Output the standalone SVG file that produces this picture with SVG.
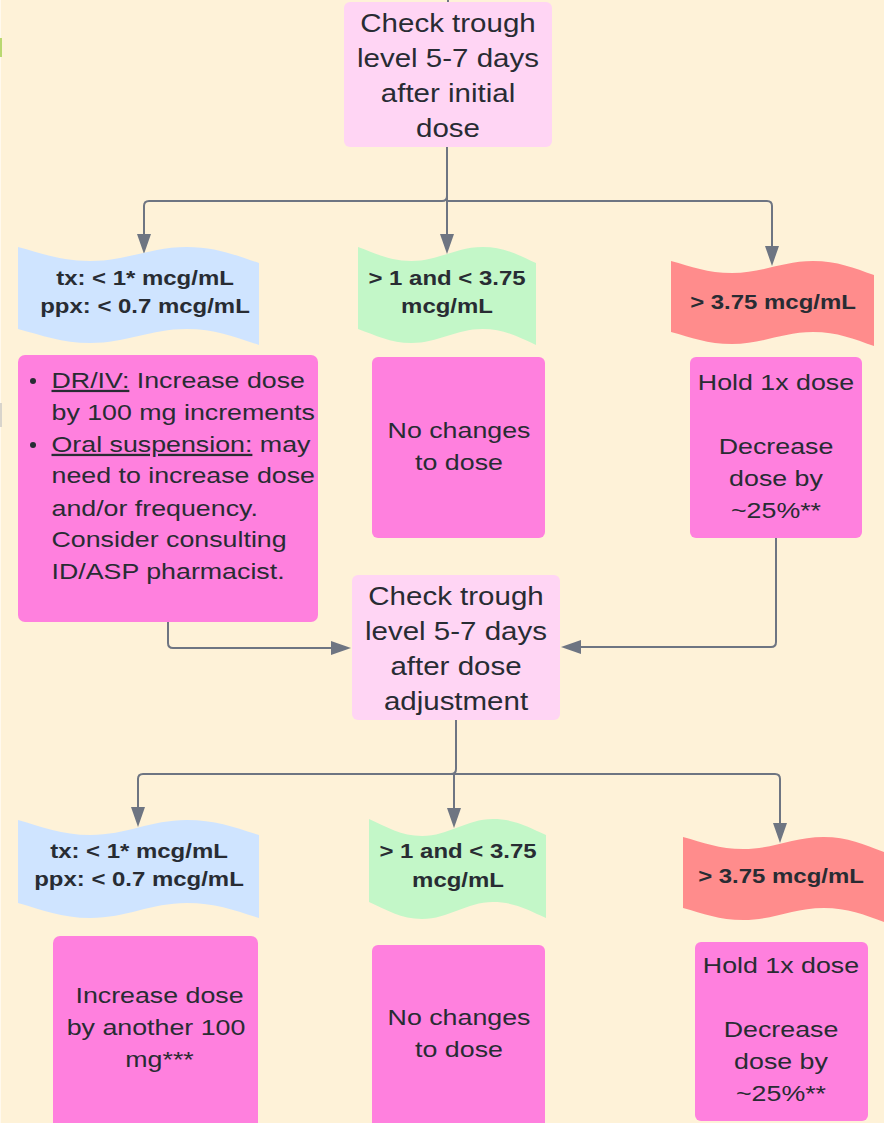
<svg xmlns="http://www.w3.org/2000/svg" width="884" height="1123" viewBox="0 0 884 1123">
<style>
.bg{fill:#FEF2D8}
.chk{fill:#FFD5F4}
.pk{fill:#FF80DE}
.blue{fill:#CFE4FF}
.green{fill:#C3F7C8}
.red{fill:#FF8C8C}
.t{font-family:"Liberation Sans",Arial,sans-serif;fill:#282C33;text-anchor:middle}
.big{font-size:25px}
.mid{font-size:22.7px}
.bold{font-size:20.3px;font-weight:bold}
.left{text-anchor:start}
.con{fill:none;stroke:#6E7582;stroke-width:2}
</style>
<defs>
<marker id="arr" markerUnits="userSpaceOnUse" markerWidth="20" markerHeight="14" refX="8" refY="7" orient="auto">
<path d="M0,0 L20,7 L0,14 Z" fill="#6E7582"/>
</marker>
</defs>
<rect class="bg" x="0" y="0" width="884" height="1123"/>
<rect x="0" y="0" width="1" height="1123" fill="#FFF9EE"/>
<rect x="0" y="38" width="2" height="19" fill="#B9D870"/>
<rect x="0" y="403" width="2" height="24" fill="#D8D4CC"/>

<g id="connectors">
<path class="con" d="M448,0 V3"/>
<path class="con" d="M447,147 V196 Q447,201 442,201 H149 Q144,201 144,206 V242" marker-end="url(#arr)"/>
<path class="con" d="M447,147 V242" marker-end="url(#arr)"/>
<path class="con" d="M447,201 H767 Q772,201 772,206 V254" marker-end="url(#arr)"/>
<path class="con" d="M168,621 V643 Q168,648 173,648 H339" marker-end="url(#arr)"/>
<path class="con" d="M776,538 V642 Q776,647 771,647 H573" marker-end="url(#arr)"/>
<path class="con" d="M456,720 V769 Q456,774 451,774 H143 Q138,774 138,779 V815" marker-end="url(#arr)"/>
<path class="con" d="M454,774 V816" marker-end="url(#arr)"/>
<path class="con" d="M451,774 H775 Q780,774 780,779 V831" marker-end="url(#arr)"/>
</g>

<g id="check1">
<rect class="chk" x="344" y="2" width="208" height="145" rx="6"/>
<text class="t big" transform="translate(448,32) scale(1.18,1)"><tspan x="0" y="0">Check trough</tspan><tspan x="0" y="35">level 5-7 days</tspan><tspan x="0" y="70">after initial</tspan><tspan x="0" y="105">dose</tspan></text>
</g>

<g id="low1">
<path class="blue" d="M18,247 C42.1,253.3 61.4,261 90.3,261 C126.5,261 150.6,247 186.7,247 C215.6,247 234.9,255 259,263 V345 C234.9,337 215.6,329 186.7,329 C150.6,329 126.5,343 90.3,343 C61.4,343 42.1,335.3 18,329 Z"/>
<text class="t bold" transform="translate(145,285) scale(1.18,1)"><tspan x="0" y="0">tx: &lt; 1* mcg/mL</tspan><tspan x="0" y="28">ppx: &lt; 0.7 mcg/mL</tspan></text>
</g>

<g id="ok1">
<path class="green" d="M358,247 C375.8,253.3 390,261 411.4,261 C438.1,261 455.9,247 482.6,247 C504,247 518.2,255 536,263 V345 C518.2,337 504,329 482.6,329 C455.9,329 438.1,343 411.4,343 C390,343 375.8,335.3 358,329 Z"/>
<text class="t bold" transform="translate(447,285) scale(1.18,1)"><tspan x="0" y="0">&gt; 1 and &lt; 3.75</tspan><tspan x="0" y="28">mcg/mL</tspan></text>
</g>

<g id="high1">
<path class="red" d="M671,261 C691.3,266.4 707.5,273 731.9,273 C762.4,273 782.7,261 813.1,261 C837.5,261 853.7,268 874,275 V346 C853.7,339 837.5,332 813.1,332 C782.7,332 762.4,344 731.9,344 C707.5,344 691.3,337.4 671,332 Z"/>
<text class="t bold" transform="translate(773,309) scale(1.18,1)">&gt; 3.75 mcg/mL</text>
</g>

<g id="increase1">
<rect class="pk" x="18" y="355" width="300" height="267" rx="7"/>
<circle cx="33" cy="381" r="3" fill="#282C33"/>
<circle cx="33" cy="445" r="3" fill="#282C33"/>
<text class="t mid left" transform="translate(51.5,388) scale(1.18,1)"><tspan x="0" y="0"><tspan text-decoration="underline">DR/IV:</tspan> Increase dose</tspan><tspan x="0" y="32">by 100 mg increments</tspan><tspan x="0" y="64"><tspan text-decoration="underline">Oral suspension:</tspan> may</tspan><tspan x="0" y="95">need to increase dose</tspan><tspan x="0" y="128">and/or frequency.</tspan><tspan x="0" y="159">Consider consulting</tspan><tspan x="0" y="191">ID/ASP pharmacist.</tspan></text>
</g>

<g id="nochange1">
<rect class="pk" x="372" y="357" width="173" height="181" rx="6"/>
<text class="t mid" transform="translate(459,438) scale(1.18,1)"><tspan x="0" y="0">No changes</tspan><tspan x="0" y="32">to dose</tspan></text>
</g>

<g id="hold1">
<rect class="pk" x="690" y="357" width="172" height="181" rx="6"/>
<text class="t mid" transform="translate(776,390) scale(1.18,1)"><tspan x="0" y="0">Hold 1x dose</tspan><tspan x="0" y="64">Decrease</tspan><tspan x="0" y="96">dose by</tspan><tspan x="0" y="128">~25%**</tspan></text>
</g>

<g id="check2">
<rect class="chk" x="352" y="575" width="208" height="145" rx="6"/>
<text class="t big" transform="translate(456,605) scale(1.18,1)"><tspan x="0" y="0">Check trough</tspan><tspan x="0" y="35">level 5-7 days</tspan><tspan x="0" y="70">after dose</tspan><tspan x="0" y="105">adjustment</tspan></text>
</g>

<g id="low2">
<path class="blue" d="M18,820 C42.1,826.8 61.4,835 90.3,835 C126.5,835 150.6,820 186.7,820 C215.6,820 234.9,827.5 259,835 V918 C234.9,910.5 215.6,903 186.7,903 C150.6,903 126.5,918 90.3,918 C61.4,918 42.1,909.8 18,903 Z"/>
<text class="t bold" transform="translate(139,858) scale(1.18,1)"><tspan x="0" y="0">tx: &lt; 1* mcg/mL</tspan><tspan x="0" y="28">ppx: &lt; 0.7 mcg/mL</tspan></text>
</g>

<g id="ok2">
<path class="green" d="M369,819 C386.7,826.7 400.9,836 422.1,836 C448.7,836 466.4,819 492.9,819 C514.2,819 528.3,827 546,835 V918 C528.3,910 514.2,902 492.9,902 C466.4,902 448.7,919 422.1,919 C400.9,919 386.7,909.7 369,902 Z"/>
<text class="t bold" transform="translate(458,858) scale(1.18,1)"><tspan x="0" y="0">&gt; 1 and &lt; 3.75</tspan><tspan x="0" y="29">mcg/mL</tspan></text>
</g>

<g id="high2">
<path class="red" d="M683,837 C703.1,842.4 719.2,849 743.3,849 C773.5,849 793.6,837 823.7,837 C847.8,837 863.9,844.5 884,852 V922 C863.9,914.5 847.8,908 823.7,908 C793.6,908 773.5,920 743.3,920 C719.2,920 703.1,913.4 683,908 Z"/>
<text class="t bold" transform="translate(781,883) scale(1.18,1)">&gt; 3.75 mcg/mL</text>
</g>

<g id="increase2">
<rect class="pk" x="53" y="936" width="205" height="200" rx="7"/>
<text class="t mid" transform="translate(156,1003) scale(1.18,1)"><tspan x="3" y="0">Increase dose</tspan><tspan x="0" y="32">by another 100</tspan><tspan x="3" y="64">mg***</tspan></text>
</g>

<g id="nochange2">
<rect class="pk" x="372" y="945" width="173" height="190" rx="6"/>
<text class="t mid" transform="translate(459,1025) scale(1.18,1)"><tspan x="0" y="0">No changes</tspan><tspan x="0" y="32">to dose</tspan></text>
</g>

<g id="hold2">
<rect class="pk" x="695" y="942" width="173" height="179" rx="6"/>
<text class="t mid" transform="translate(781,973) scale(1.18,1)"><tspan x="0" y="0">Hold 1x dose</tspan><tspan x="0" y="64">Decrease</tspan><tspan x="0" y="96">dose by</tspan><tspan x="0" y="128">~25%**</tspan></text>
</g>
</svg>
